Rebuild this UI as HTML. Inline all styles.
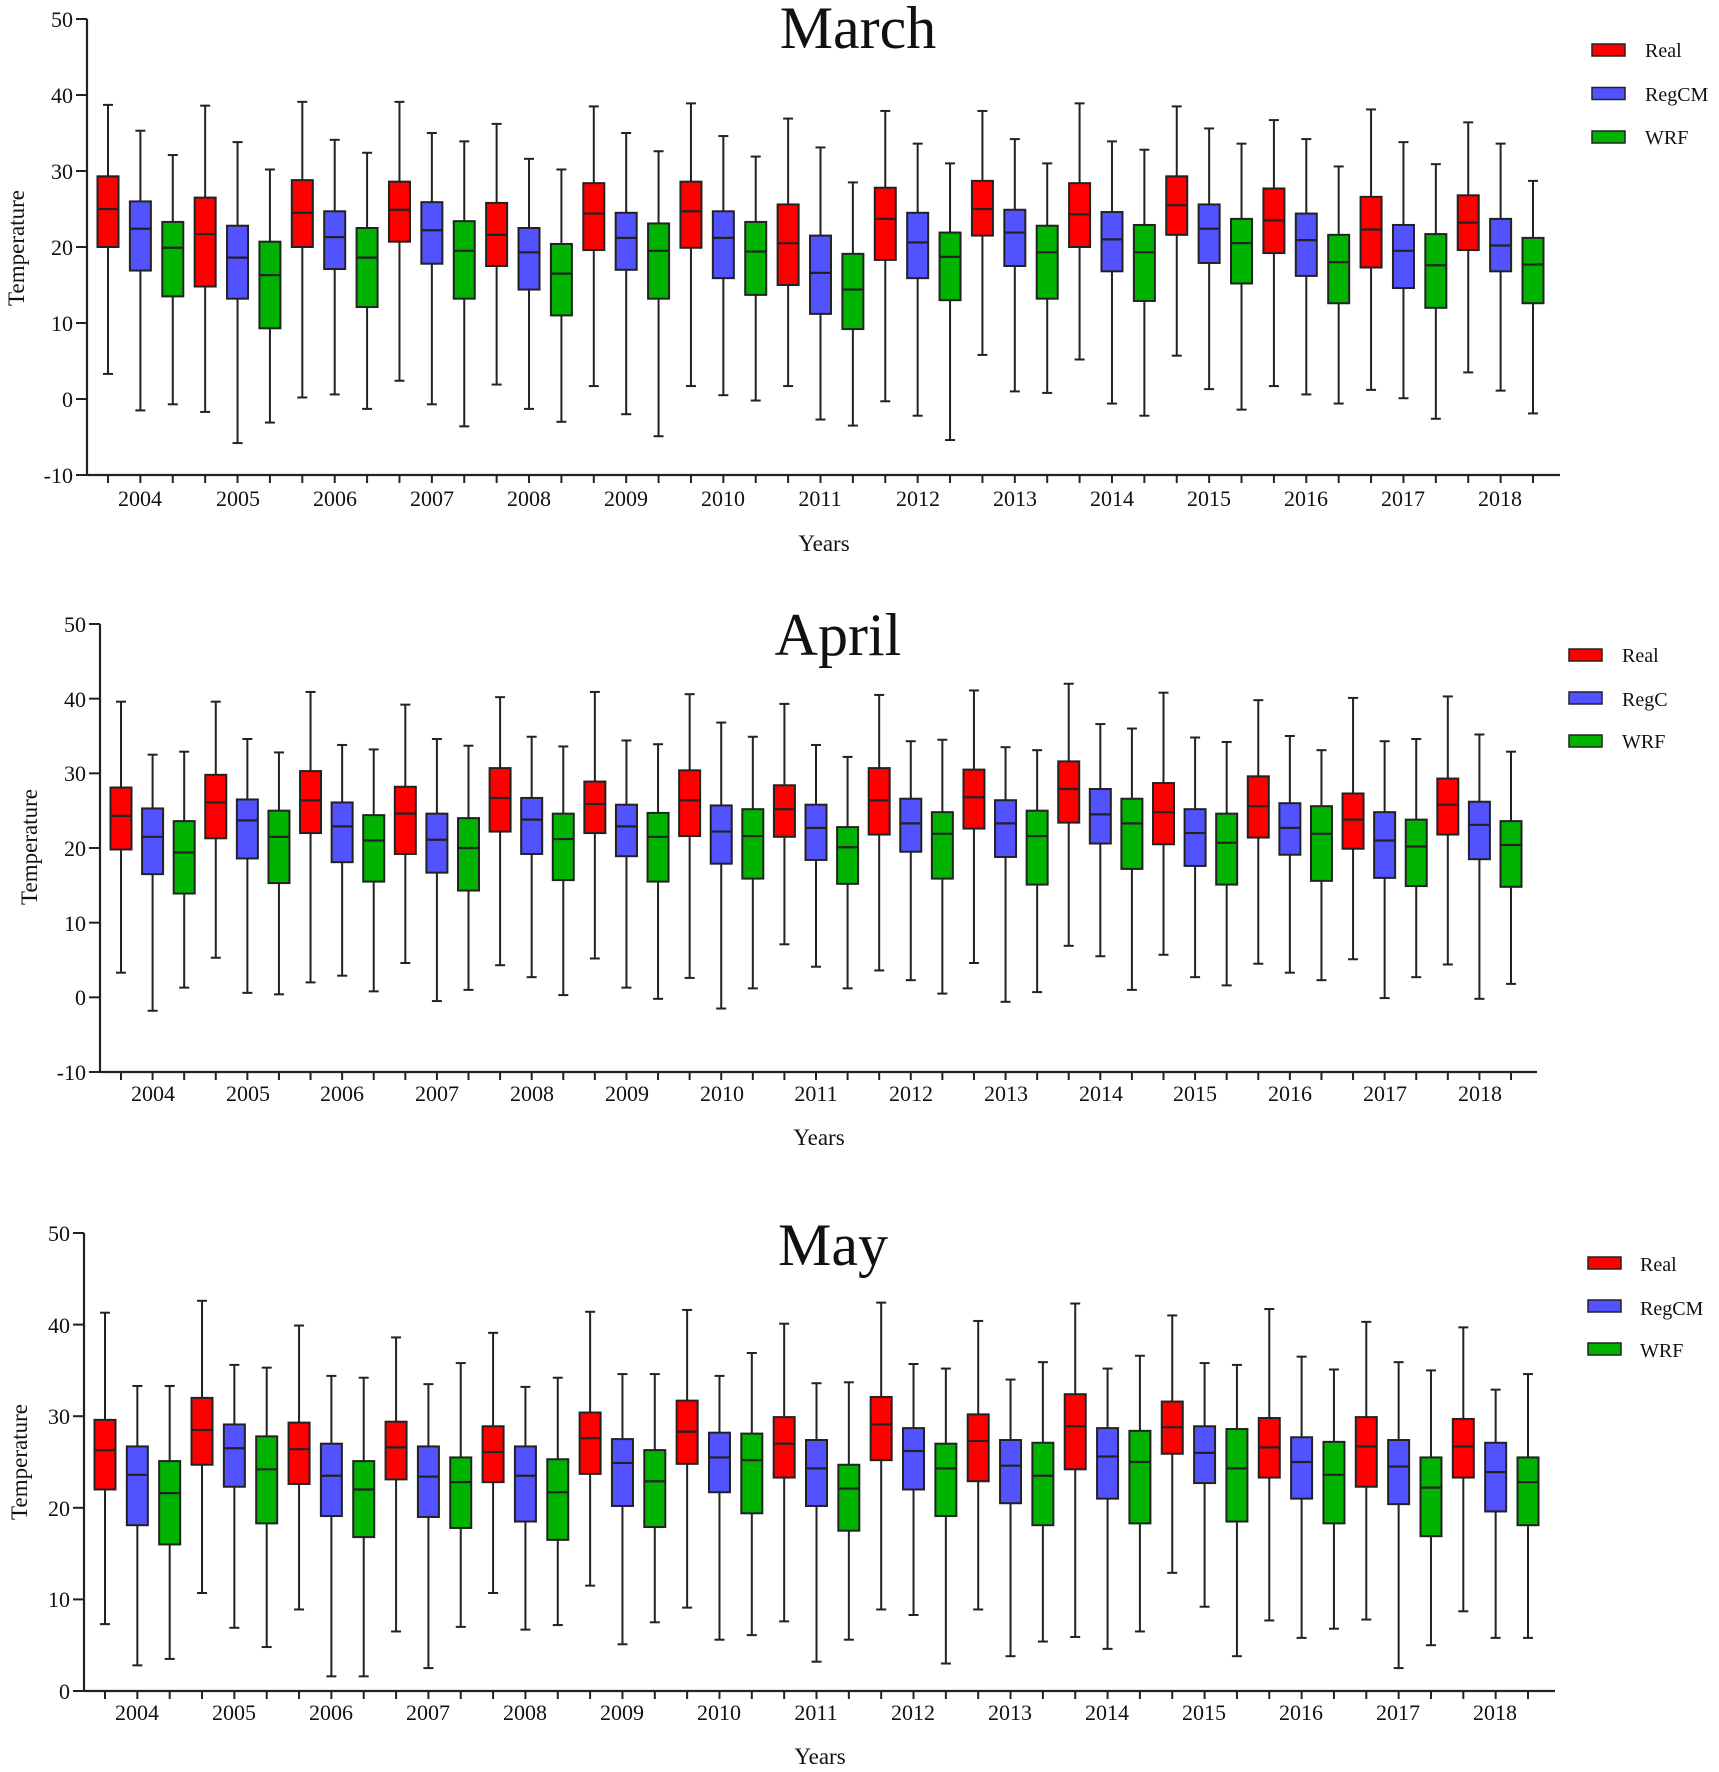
<!DOCTYPE html>
<html><head><meta charset="utf-8"><style>
html,body{margin:0;padding:0;background:#fff}
svg{display:block}
text{font-family:"Liberation Serif",serif;fill:#111}
.tk{font-size:22px;text-anchor:end}
.yr{font-size:22px;text-anchor:middle}
.ttl{font-size:60px;text-anchor:middle}
.ax{font-size:23px;text-anchor:middle}
.lg{font-size:20px}
</style></head><body>
<svg id="s" width="1719" height="1772" viewBox="0 0 1719 1772" xmlns="http://www.w3.org/2000/svg">
<g id="g"></g>
<!-- March -->
<text class="ttl" x="858" y="48">March</text>
<g class="tk"><text x="73" y="27">50</text><text x="73" y="103">40</text><text x="73" y="179">30</text><text x="73" y="255">20</text><text x="73" y="331">10</text><text x="73" y="407">0</text><text x="73" y="483">-10</text></g>
<g class="yr"><text x="140" y="506">2004</text><text x="238" y="506">2005</text><text x="335" y="506">2006</text><text x="432" y="506">2007</text><text x="529" y="506">2008</text><text x="626" y="506">2009</text><text x="723" y="506">2010</text><text x="820" y="506">2011</text><text x="918" y="506">2012</text><text x="1015" y="506">2013</text><text x="1112" y="506">2014</text><text x="1209" y="506">2015</text><text x="1306" y="506">2016</text><text x="1403" y="506">2017</text><text x="1500" y="506">2018</text></g>
<text class="ax" x="824" y="551">Years</text>
<text class="ax" transform="translate(24,248) rotate(-90)">Temperature</text>
<g class="lg"><text x="1645" y="57">Real</text><text x="1645" y="101">RegCM</text><text x="1645" y="144">WRF</text></g>
<!-- April -->
<text class="ttl" x="838" y="655">April</text>
<g class="tk"><text x="86" y="632">50</text><text x="86" y="707">40</text><text x="86" y="781">30</text><text x="86" y="856">20</text><text x="86" y="931">10</text><text x="86" y="1005">0</text><text x="86" y="1080">-10</text></g>
<g class="yr"><text x="153" y="1101">2004</text><text x="248" y="1101">2005</text><text x="342" y="1101">2006</text><text x="437" y="1101">2007</text><text x="532" y="1101">2008</text><text x="627" y="1101">2009</text><text x="722" y="1101">2010</text><text x="816" y="1101">2011</text><text x="911" y="1101">2012</text><text x="1006" y="1101">2013</text><text x="1101" y="1101">2014</text><text x="1195" y="1101">2015</text><text x="1290" y="1101">2016</text><text x="1385" y="1101">2017</text><text x="1480" y="1101">2018</text></g>
<text class="ax" x="819" y="1145">Years</text>
<text class="ax" transform="translate(37,847) rotate(-90)">Temperature</text>
<g class="lg"><text x="1622" y="662">Real</text><text x="1622" y="706">RegC</text><text x="1622" y="748">WRF</text></g>
<!-- May -->
<text class="ttl" x="833" y="1265">May</text>
<g class="tk"><text x="70" y="1241">50</text><text x="70" y="1333">40</text><text x="70" y="1424">30</text><text x="70" y="1516">20</text><text x="70" y="1607">10</text><text x="70" y="1699">0</text></g>
<g class="yr"><text x="137" y="1720">2004</text><text x="234" y="1720">2005</text><text x="331" y="1720">2006</text><text x="428" y="1720">2007</text><text x="525" y="1720">2008</text><text x="622" y="1720">2009</text><text x="719" y="1720">2010</text><text x="816" y="1720">2011</text><text x="913" y="1720">2012</text><text x="1010" y="1720">2013</text><text x="1107" y="1720">2014</text><text x="1204" y="1720">2015</text><text x="1301" y="1720">2016</text><text x="1398" y="1720">2017</text><text x="1495" y="1720">2018</text></g>
<text class="ax" x="820" y="1764">Years</text>
<text class="ax" transform="translate(27,1462) rotate(-90)">Temperature</text>
<g class="lg"><text x="1640" y="1271">Real</text><text x="1640" y="1315">RegCM</text><text x="1640" y="1357">WRF</text></g>
</svg>
<script>
var C=["#ff0000","#5252ff","#00b300"];
var charts=[
{ax:87,right:1560,y0:19,ymin:-10,ymax:50,step:10,x0:108,x1:1533,leg:[1592,50],lgap:43.5,
d:[[3.3,20,25,29.3,38.7],[-1.5,16.9,22.4,26,35.3],[-0.7,13.5,19.9,23.3,32.1],
[-1.7,14.8,21.7,26.5,38.6],[-5.8,13.2,18.6,22.8,33.8],[-3.1,9.3,16.3,20.7,30.2],
[0.2,20,24.5,28.8,39.1],[0.6,17.1,21.3,24.7,34.1],[-1.3,12.1,18.6,22.5,32.4],
[2.4,20.7,24.9,28.6,39.1],[-0.7,17.8,22.2,25.9,35],[-3.6,13.2,19.5,23.4,33.9],
[1.9,17.5,21.6,25.8,36.2],[-1.3,14.4,19.3,22.5,31.6],[-3,11,16.5,20.4,30.2],
[1.7,19.6,24.4,28.4,38.5],[-2,17,21.2,24.5,35],[-4.9,13.2,19.5,23.1,32.6],
[1.7,19.9,24.7,28.6,38.9],[0.5,15.9,21.2,24.7,34.6],[-0.2,13.7,19.4,23.3,31.9],
[1.7,15,20.5,25.6,36.9],[-2.7,11.2,16.6,21.5,33.1],[-3.5,9.2,14.4,19.1,28.5],
[-0.3,18.3,23.7,27.8,37.9],[-2.2,15.9,20.6,24.5,33.6],[-5.4,13,18.7,21.9,31],
[5.8,21.5,25,28.7,37.9],[1,17.5,21.9,24.9,34.2],[0.8,13.2,19.3,22.8,31],
[5.2,20,24.3,28.4,38.9],[-0.6,16.8,21,24.6,33.9],[-2.2,12.9,19.3,22.9,32.8],
[5.7,21.6,25.5,29.3,38.5],[1.3,17.9,22.4,25.6,35.6],[-1.4,15.2,20.5,23.7,33.6],
[1.7,19.2,23.5,27.7,36.7],[0.6,16.2,20.9,24.4,34.2],[-0.6,12.6,18,21.6,30.6],
[1.2,17.3,22.3,26.6,38.1],[0.1,14.6,19.5,22.9,33.8],[-2.6,12,17.6,21.7,30.9],
[3.5,19.6,23.2,26.8,36.4],[1.1,16.8,20.2,23.7,33.6],[-1.9,12.6,17.7,21.2,28.7]]},
{ax:100,right:1537,y0:624,ymin:-10,ymax:50,step:10,x0:121,x1:1511,leg:[1569,655],lgap:43,
d:[[3.3,19.8,24.3,28.1,39.6],[-1.8,16.5,21.5,25.3,32.5],[1.3,13.9,19.4,23.6,32.9],
[5.3,21.3,26.1,29.8,39.6],[0.6,18.6,23.7,26.5,34.6],[0.4,15.3,21.5,25,32.8],
[2,22,26.4,30.3,40.9],[2.9,18.1,22.9,26.1,33.8],[0.8,15.5,21,24.4,33.2],
[4.6,19.2,24.6,28.2,39.2],[-0.5,16.7,21.1,24.6,34.6],[1,14.3,20,24,33.7],
[4.3,22.2,26.7,30.7,40.2],[2.7,19.2,23.8,26.7,34.9],[0.3,15.7,21.2,24.6,33.6],
[5.2,22,25.9,28.9,40.9],[1.3,18.9,22.9,25.8,34.4],[-0.2,15.5,21.5,24.7,33.9],
[2.6,21.6,26.4,30.4,40.6],[-1.5,17.9,22.2,25.7,36.8],[1.2,15.9,21.6,25.2,34.9],
[7.1,21.5,25.2,28.4,39.3],[4.1,18.4,22.7,25.8,33.8],[1.2,15.2,20.1,22.8,32.2],
[3.6,21.8,26.4,30.7,40.5],[2.3,19.5,23.3,26.6,34.3],[0.5,15.9,21.9,24.8,34.5],
[4.6,22.6,26.8,30.5,41.1],[-0.6,18.8,23.3,26.4,33.5],[0.7,15.1,21.6,25,33.1],
[6.9,23.4,27.9,31.6,42],[5.5,20.6,24.5,27.9,36.6],[1,17.2,23.3,26.6,36],
[5.7,20.5,24.8,28.7,40.8],[2.7,17.6,22,25.2,34.8],[1.6,15.1,20.7,24.6,34.2],
[4.5,21.4,25.6,29.6,39.8],[3.3,19.1,22.7,26,35],[2.3,15.6,21.9,25.6,33.1],
[5.1,19.9,23.8,27.3,40.1],[-0.1,16,21,24.8,34.3],[2.7,14.9,20.2,23.8,34.6],
[4.4,21.8,25.8,29.3,40.3],[-0.2,18.5,23.1,26.2,35.2],[1.8,14.8,20.4,23.6,32.9]]},
{ax:84,right:1555,y0:1233,ymin:0,ymax:50,step:10,x0:105,x1:1528,leg:[1588,1263],lgap:43,
d:[[7.3,22,26.3,29.6,41.3],[2.8,18.1,23.6,26.7,33.3],[3.5,16,21.6,25.1,33.3],
[10.7,24.7,28.5,32,42.6],[6.9,22.3,26.5,29.1,35.6],[4.8,18.3,24.2,27.8,35.3],
[8.9,22.6,26.4,29.3,39.9],[1.6,19.1,23.5,27,34.4],[1.6,16.8,22,25.1,34.2],
[6.5,23.1,26.6,29.4,38.6],[2.5,19,23.4,26.7,33.5],[7,17.8,22.8,25.5,35.8],
[10.7,22.8,26.1,28.9,39.1],[6.7,18.5,23.5,26.7,33.2],[7.2,16.5,21.7,25.3,34.2],
[11.5,23.7,27.6,30.4,41.4],[5.1,20.2,24.9,27.5,34.6],[7.5,17.9,22.9,26.3,34.6],
[9.1,24.8,28.3,31.7,41.6],[5.6,21.7,25.5,28.2,34.4],[6.1,19.4,25.2,28.1,36.9],
[7.6,23.3,27,29.9,40.1],[3.2,20.2,24.3,27.4,33.6],[5.6,17.5,22.1,24.7,33.7],
[8.9,25.2,29.1,32.1,42.4],[8.3,22,26.2,28.7,35.7],[3,19.1,24.3,27,35.2],
[8.9,22.9,27.3,30.2,40.4],[3.8,20.5,24.6,27.4,34],[5.4,18.1,23.5,27.1,35.9],
[5.9,24.2,28.9,32.4,42.3],[4.6,21,25.6,28.7,35.2],[6.5,18.3,25,28.4,36.6],
[12.9,25.9,28.8,31.6,41],[9.2,22.7,26,28.9,35.8],[3.8,18.5,24.3,28.6,35.6],
[7.7,23.3,26.6,29.8,41.7],[5.8,21,25,27.7,36.5],[6.8,18.3,23.6,27.2,35.1],
[7.8,22.3,26.7,29.9,40.3],[2.5,20.4,24.5,27.4,35.9],[5,16.9,22.2,25.5,35],
[8.7,23.3,26.7,29.7,39.7],[5.8,19.6,23.9,27.1,32.9],[5.8,18.1,22.8,25.5,34.6]]}];
charts[0].y1=475;charts[1].y1=1072;charts[2].y1=1691;
var h="";
charts.forEach(function(c){
 var Y=function(v){return c.y0+(c.ymax-v)*(c.y1-c.y0)/(c.ymax-c.ymin);};
 var dx=(c.x1-c.x0)/44;
 h+='<line x1="'+c.ax+'" y1="'+c.y0+'" x2="'+c.ax+'" y2="'+c.y1+'" stroke="#222" stroke-width="2.2"/>';
 h+='<line x1="'+c.ax+'" y1="'+c.y1+'" x2="'+c.right+'" y2="'+c.y1+'" stroke="#222" stroke-width="2.2"/>';
 for(var v=c.ymin;v<=c.ymax;v+=c.step){var y=Y(v);h+='<line x1="'+(c.ax-11)+'" y1="'+y+'" x2="'+c.ax+'" y2="'+y+'" stroke="#222" stroke-width="2"/>';}
 c.d.forEach(function(b,i){
  var x=c.x0+i*dx,w=10.5,col=C[i%3];
  h+='<line x1="'+x+'" y1="'+c.y1+'" x2="'+x+'" y2="'+(c.y1+8)+'" stroke="#222" stroke-width="2"/>';
  h+='<line x1="'+x+'" y1="'+Y(b[0])+'" x2="'+x+'" y2="'+Y(b[4])+'" stroke="#222" stroke-width="2"/>';
  h+='<line x1="'+(x-5)+'" y1="'+Y(b[0])+'" x2="'+(x+5)+'" y2="'+Y(b[0])+'" stroke="#222" stroke-width="2"/>';
  h+='<line x1="'+(x-5)+'" y1="'+Y(b[4])+'" x2="'+(x+5)+'" y2="'+Y(b[4])+'" stroke="#222" stroke-width="2"/>';
  h+='<rect x="'+(x-w)+'" y="'+Y(b[3])+'" width="'+(2*w)+'" height="'+(Y(b[1])-Y(b[3]))+'" fill="'+col+'" stroke="#222" stroke-width="2"/>';
  h+='<line x1="'+(x-w)+'" y1="'+Y(b[2])+'" x2="'+(x+w)+'" y2="'+Y(b[2])+'" stroke="#222" stroke-width="2.2"/>';
 });
 for(var k=0;k<3;k++){h+='<rect x="'+c.leg[0]+'" y="'+(c.leg[1]-6+k*c.lgap)+'" width="33" height="12" fill="'+C[k]+'" stroke="#222" stroke-width="1.5"/>';}
});
document.getElementById("g").innerHTML=h;
</script>
</body></html>
